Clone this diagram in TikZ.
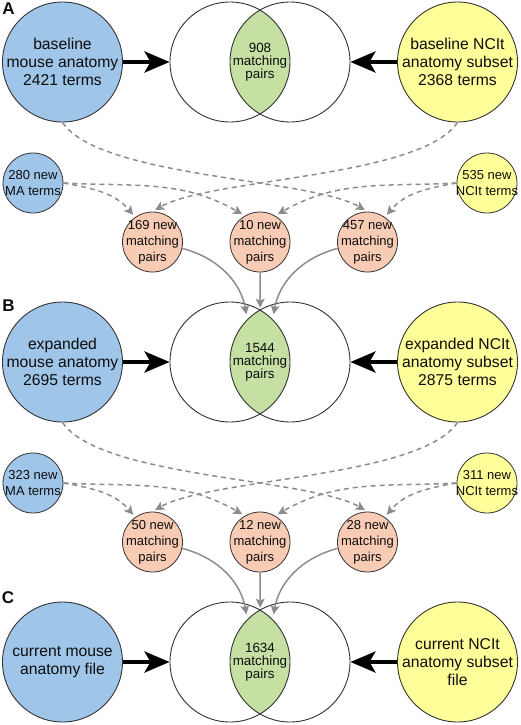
\documentclass[tikz,border=0pt]{standalone}
\usepackage{fontspec}
\setmainfont{Liberation Sans}
\usetikzlibrary{positioning,arrows.meta,calc}
\pgfdeclarelayer{bg}
\pgfsetlayers{bg,main}
\definecolor{maBlue}{HTML}{9FC5E8}
\definecolor{ncYellow}{HTML}{FFFF99}
\definecolor{pairSalmon}{HTML}{F8CBB4}
\definecolor{lensGreen}{HTML}{C6E0A4}
\definecolor{flowGrey}{HTML}{8C8C8C}
\definecolor{rimGrey}{HTML}{333333}
\tikzset{
	>=Stealth
}

\begin{document}
\begin{tikzpicture}[
x = 1pt, y = 1pt,
every node/.style = {
	font = \fontsize{15.7}{18}\selectfont,
	text = black!95,
	align = center
},
panel/.style = {
	font = \fontsize{17}{17}\selectfont\bfseries
},
ontology/.style = {
	circle,
	draw = rimGrey,
	line width = 0.9pt,
	inner sep = -6pt,
	minimum size = 120pt
},
ma/.style = {
	ontology,
	fill = maBlue
},
nc/.style = {
	ontology,
	fill = ncYellow
},
venn/.style = {
	circle,
	draw = rimGrey,
	line width = 0.9pt,
	inner sep = 0pt,
	minimum size = 120pt
},
lens/.style = {
	font = \fontsize{13.4}{13.2}\selectfont
},
newterms/.style = {
	circle,
	draw = rimGrey,
	line width = 0.8pt,
	inner sep = -6pt,
	minimum size = 60pt,
	font = \fontsize{13}{16.5}\selectfont
},
newpairs/.style = {
	newterms,
	fill = pairSalmon,
	font = \fontsize{13}{16}\selectfont
},
feed/.style = {
	-{Stealth[length=25pt, width=21pt, inset=6pt]},
	line width = 4pt
},
dep/.style = {
	-{Stealth[length=9pt, width=9pt, inset=2pt]},
	flowGrey,
	line width = 1.5pt,
	dash pattern = on 5pt off 4pt,
	shorten > = 3pt
},
merge/.style = {
	-{Stealth[length=9pt, width=9pt, inset=2pt]},
	flowGrey,
	line width = 1.5pt,
	shorten > = 5pt
}
]
\useasboundingbox (0,0) rectangle (520,-725);

% A: baseline
\node [panel] (labA) at (8.5,-9) {A};
\node [ma] (maA) at (62.5,-62) {baseline\\mouse anatomy\\2421 terms};
\node [venn] (vAl) at (230,-62) {};
\node [venn] (vAr) at (290,-62) {};
\node [lens] (lensA) at ($(vAl)!0.5!(vAr)$) {908\\matching\\pairs};
\node [nc] (ncA) at (457.5,-62) {baseline NCIt\\anatomy subset\\2368 terms};

\node [newterms, fill=maBlue] (nmaA) at (33,-183) {280 new\\MA terms};
\node [newterms, fill=ncYellow] (nncA) at (487,-183) {535 new\\NCIt terms};
\node [newpairs] (npA1) at (152.5,-242) {169 new\\matching\\pairs};
\node [newpairs] (npA2) at (260,-242) {10 new\\matching\\pairs};
\node [newpairs] (npA3) at (367.5,-242) {457 new\\matching\\pairs};

% B: expanded
\node [panel] (labB) at (8.5,-306) {B};
\node [ma] (maB) at (62.5,-362) {expanded\\mouse anatomy\\2695 terms};
\node [venn] (vBl) at (230,-362) {};
\node [venn] (vBr) at (290,-362) {};
\node [lens] (lensB) at ($(vBl)!0.5!(vBr)$) {1544\\matching\\pairs};
\node [nc] (ncB) at (457.5,-362) {expanded NCIt\\anatomy subset\\2875 terms};

\node [newterms, fill=maBlue] (nmaB) at (33,-483) {323 new\\MA terms};
\node [newterms, fill=ncYellow] (nncB) at (487,-483) {311 new\\NCIt terms};
\node [newpairs] (npB1) at (152.5,-542) {50 new\\matching\\pairs};
\node [newpairs] (npB2) at (260,-542) {12 new\\matching\\pairs};
\node [newpairs] (npB3) at (367.5,-542) {28 new\\matching\\pairs};

% C: current
\node [panel] (labC) at (8,-598) {C};
\node [ma] (maC) at (62.5,-662) {current mouse\\anatomy file};
\node [venn] (vCl) at (230,-662) {};
\node [venn] (vCr) at (290,-662) {};
\node [lens] (lensC) at ($(vCl)!0.5!(vCr)$) {1634\\matching\\pairs};
\node [nc] (ncC) at (457.5,-662) {current NCIt\\anatomy subset\\file};

\begin{pgfonlayer}{bg}
\begin{scope}
\clip (vAl.center) circle (60pt);
\fill [lensGreen] (vAr.center) circle (60pt);
\end{scope}
\begin{scope}
\clip (vBl.center) circle (60pt);
\fill [lensGreen] (vBr.center) circle (60pt);
\end{scope}
\begin{scope}
\clip (vCl.center) circle (60pt);
\fill [lensGreen] (vCr.center) circle (60pt);
\end{scope}
\end{pgfonlayer}

\draw[feed] (maA) -- (vAl);
\draw[feed] (ncA) -- (vAr);
\draw[feed] (maB) -- (vBl);
\draw[feed] (ncB) -- (vBr);
\draw[feed] (maC) -- (vCl);
\draw[feed] (ncC) -- (vCr);

\draw[dep] (maA.south) .. controls (100,-178) and (310,-178) .. (npA3.north);
\draw[dep] (ncA.south) .. controls (420,-178) and (210,-178) .. (npA1.north);
\draw[dep] (nmaA.east) to[out=-10, in=130] (npA1.125);
\draw[dep] (nmaA.east) to[out=-3, in=150] (npA2.120);
\draw[dep] (nncA.west) to[out=183, in=30] (npA2.60);
\draw[dep] (nncA.west) to[out=190, in=50] (npA3.55);

\draw[merge] (npA1.-12) to[out=-15, in=100] (vBr.135);
\draw[merge, shorten >=2pt] (npA2) -- (vBl.60);
\draw[merge] (npA3.192) to[out=195, in=80] (vBl.45);

\draw[dep] (maB.south) .. controls (100,-478) and (310,-478) .. (npB3.north);
\draw[dep] (ncB.south) .. controls (420,-478) and (210,-478) .. (npB1.north);
\draw[dep] (nmaB.east) to[out=-10, in=130] (npB1.125);
\draw[dep] (nmaB.east) to[out=-3, in=150] (npB2.120);
\draw[dep] (nncB.west) to[out=183, in=30] (npB2.60);
\draw[dep] (nncB.west) to[out=190, in=50] (npB3.55);

\draw[merge] (npB1.-12) to[out=-15, in=100] (vCr.135);
\draw[merge, shorten >=2pt] (npB2) -- (vCl.60);
\draw[merge] (npB3.192) to[out=195, in=80] (vCl.45);

\end{tikzpicture}
\end{document}
